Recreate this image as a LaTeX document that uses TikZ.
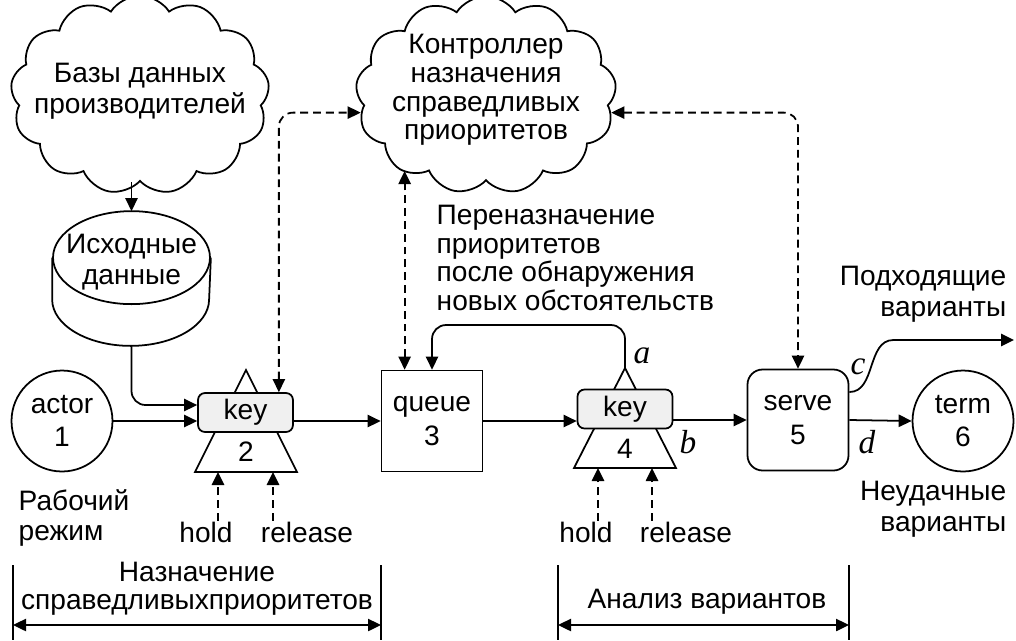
\documentclass[tikz,border=0pt]{standalone}
\usepackage{fontspec}
\setmainfont{Liberation Sans}
\newfontfamily\letterfont{Liberation Serif}
\usetikzlibrary{arrows.meta, shapes.symbols, positioning}

\begin{document}
\begin{tikzpicture}[x=0.02cm, y=-0.02cm, font=\fontsize{16}{17.5}\selectfont,
                    line width=1pt, >={Triangle[length=7.4pt,width=7pt]}]
        % Setup the styles for the blocks
        \tikzset{cloud style/.style={cloud, draw, cloud puffs=13,
                                     cloud puff arc=115, cloud ignores aspect,
                                     inner sep=0pt}}
        \tikzset{key style/.style={draw, fill=gray!12, rounded corners=4pt,
                                   minimum width=1.9cm, minimum height=0.78cm,
                                   inner sep=0pt}}
        \tikzset{round style/.style={circle, draw, minimum size=2.02cm,
                                     inner sep=0pt, align=center,
                                     font=\fontsize{16}{19}\selectfont}}
        \tikzset{box style/.style={draw, minimum width=2.02cm,
                                   minimum height=2.02cm, inner sep=0pt,
                                   align=center,
                                   font=\fontsize{16}{19}\selectfont}}
        \tikzset{tri style/.style={draw, fill=white}}
        \tikzset{dash style/.style={dash pattern=on 4.5pt off 2.8pt}}
        \tikzset{letter style/.style={font=\fontsize{19}{19}\letterfont\itshape}}

        \useasboundingbox (0,0) rectangle (1016,640);

        % Draw the clouds and the data drum
        \node[cloud style] at (140,95) (base) {\hspace*{3.44cm}\rule{0pt}{2.43cm}};
        \node[align=center] at (140,91) (basetxt) {Базы данных\\производителей};
        \node[cloud style] at (486,95) (ctrl) {\hspace*{3.47cm}\rule{0pt}{2.41cm}};
        \node[align=center, font=\fontsize{16}{16.3}\selectfont]
              at (486,90) (ctrltxt) {Контроллер\\назначения\\справедливых\\приоритетов};
        \node[minimum width=3.14cm, minimum height=2.66cm, inner sep=0pt]
              at (131.5,278.5) (src) {};
        \draw ([yshift=-0.93cm]src.north) ellipse [x radius=1.57cm, y radius=0.93cm];
        \draw ([yshift=-0.93cm]src.north west) -- ([yshift=0.93cm]src.south west)
              arc[start angle=180, end angle=360, x radius=1.57cm, y radius=0.93cm]
              -- ([yshift=-0.93cm]src.north east);
        \node[align=center] at (131.5,262) (srctext) {Исходные\\данные};

        % Draw the triangles under the keys
        \draw[tri style] (246,370) coordinate (k2top) -- (297,472) -- (195,472) -- cycle;
        \draw[tri style] (625,368) coordinate (k4top) -- (676,468) -- (574,468) -- cycle;

        % Draw the blocks
        \node[round style] at (62,421) (actor) {actor\\1};
        \node[key style] at (245.5,412.5) (key2) {key};
        \node at (246,452) (num2) {2};
        \node[box style] at (432,421) (queue) {queue\\3};
        \node[key style] at (625,409) (key4) {key};
        \node at (625,449) (num4) {4};
        \node[box style, rounded corners=0.3cm] at (798,420) (serve) {serve\\5};
        \node[round style] at (963,421) (term) {term\\6};

        % Draw the texts
        \node[align=left, anchor=west] at (12,518) (mode) {Рабочий\\режим};
        \node[align=left, anchor=west, font=\fontsize{16}{16.3}\selectfont]
              at (430,258) (renew) {Переназначение\\приоритетов\\после обнаружения\\новых обстоятельств};
        \node[align=right, anchor=east] at (1013,294) (fit) {Подходящие\\варианты};
        \node[align=right, anchor=east] at (1013,509) (fail) {Неудачные\\варианты};
        \node[inner sep=0pt] at (206,532) (hold2) {hold};
        \node[inner sep=0pt] at (307,532) (rel2) {release};
        \node[inner sep=0pt] at (586,532) (hold4) {hold};
        \node[inner sep=0pt] at (686,532) (rel4) {release};
        \node[letter style] at (642,356) (la) {a};
        \node[letter style] at (688,442) (lb) {b};
        \node[letter style] at (858,367) (lc) {c};
        \node[letter style] at (867,442) (ld) {d};

        % Connect the blocks with arrows
        \path[->]
            (actor.east)            edge (actor.east -| key2.west)
            (key2.east |- queue.west) edge (queue.west)
            (queue.east)            edge (queue.east -| key4.west)
            (key4.east |- serve.west) edge (serve.west)
            (serve.east)            edge (term.west)
            (src.north |- base.south) edge (src.north);
        \draw[->, rounded corners=8pt] (src.south) |- ([yshift=0.15cm]key2.west);
        \draw[->, rounded corners=8pt] (k4top) -- ++(0,-43) -| (queue.north);
        \coordinate (good) at (1014,340);
        \draw[->] ([yshift=0.56cm]serve.east) to[out=0, in=180] ++(44,-52) -- (good);

        % Dashed links to the controller
        \coordinate (q3in) at ([xshift=0.48cm]queue.north west);
        \draw[<->, dash style, rounded corners=8pt]
            ([xshift=-0.3cm]key2.north east) |- (ctrl.188);
        \draw[<->, dash style] (q3in) -- (q3in |- ctrl.222);
        \draw[<->, dash style, rounded corners=8pt] (ctrl.352) -| (serve.north);

        % Hold and release signals
        \coordinate (k2h) at (218,472);
        \coordinate (k2r) at (273,472);
        \coordinate (k4h) at (598,468);
        \coordinate (k4r) at (652,468);
        \draw[->, dash style] (k2h |- hold2.north) -- (k2h);
        \draw[->, dash style] (k2r |- rel2.north) -- (k2r);
        \draw[->, dash style] (k4h |- hold4.north) -- (k4h);
        \draw[->, dash style] (k4r |- rel4.north) -- (k4r);

        % Dimension lines at the bottom
        \node[inner sep=0pt] at (197,572) (fairtop) {Назначение};
        \node[inner sep=0pt] at (197,605) (fairtxt) {справедливыхприоритетов};
        \node at (707,602) (anltxt) {Анализ вариантов};
        \coordinate (fairL) at (13,625);
        \coordinate (fairR) at (381,625);
        \coordinate (anlL) at (558,625);
        \coordinate (anlR) at (849,625);
        \draw[line width=0.6pt]
            (fairL |- 0,565) -- (fairL |- 0,640)
            (fairR |- 0,565) -- (fairR |- 0,640)
            (anlL |- 0,565) -- (anlL |- 0,640)
            (anlR |- 0,565) -- (anlR |- 0,640);
        \draw[<->, line width=0.8pt] (fairL) -- (fairR);
        \draw[<->, line width=0.8pt] (anlL) -- (anlR);
\end{tikzpicture}
\end{document}
